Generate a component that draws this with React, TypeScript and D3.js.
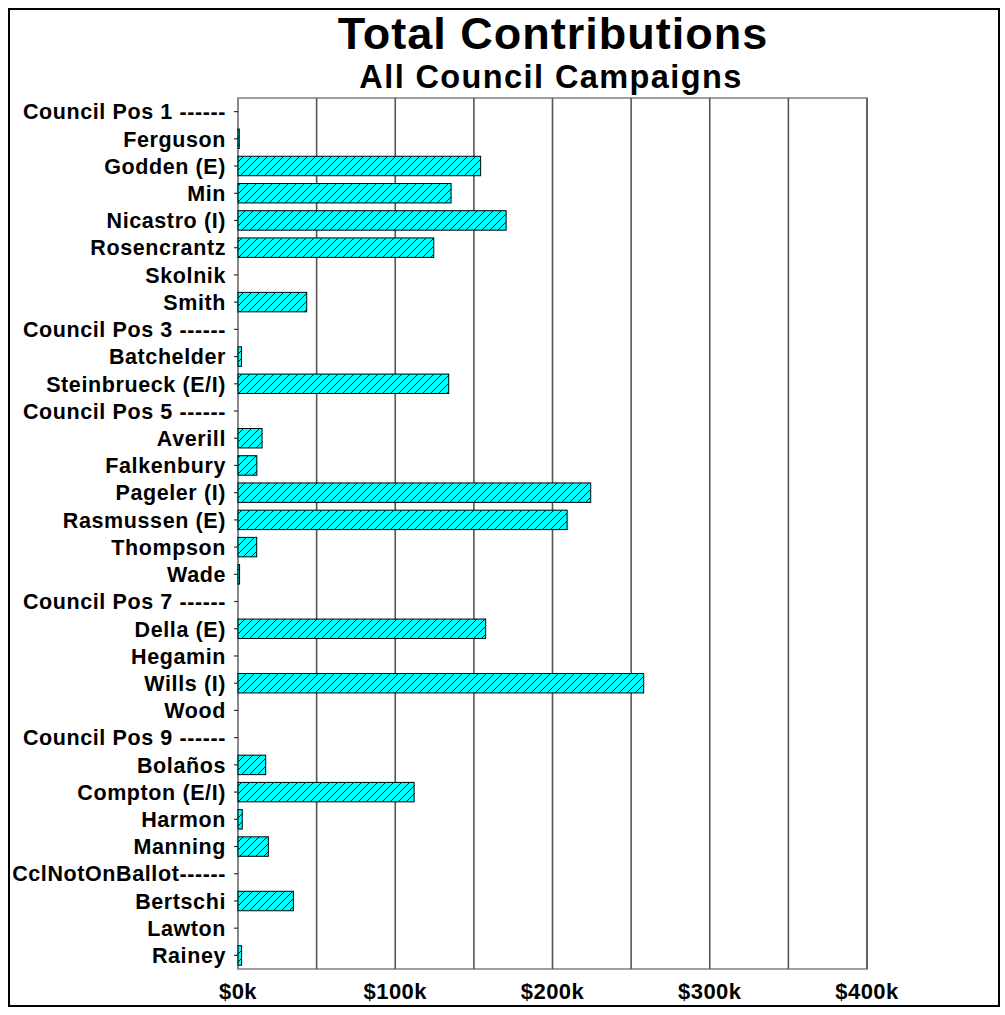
import React from "react";
import * as d3 from "d3";

const categories = [
  "Council Pos 1 ------", "Ferguson", "Godden (E)", "Min", "Nicastro (I)", "Rosencrantz", "Skolnik", "Smith",
  "Council Pos 3 ------", "Batchelder", "Steinbrueck (E/I)",
  "Council Pos 5 ------", "Averill", "Falkenbury", "Pageler (I)", "Rasmussen (E)", "Thompson", "Wade",
  "Council Pos 7 ------", "Della (E)", "Hegamin", "Wills (I)", "Wood",
  "Council Pos 9 ------", "Bolaños", "Compton (E/I)", "Harmon", "Manning",
  "CclNotOnBallot------", "Bertschi", "Lawton", "Rainey",
];

// total contributions in dollars
const contributions = [
  0, 800, 154300, 135500, 170500, 124500, 0, 43700,
  0, 2200, 134000,
  0, 15300, 12000, 224300, 209300, 11900, 1000,
  0, 157500, 0, 258000, 0,
  0, 17600, 112000, 2700, 19300,
  0, 35200, 0, 2300,
];

const xTicks = [0, 100000, 200000, 300000, 400000];
const gridValues = [50000, 100000, 150000, 200000, 250000, 300000, 350000, 400000];
const tickLabel = (v: number) => `$${v / 1000}k`;

const FONT = "'Liberation Sans', Arial, sans-serif";

export default function App() {
  const x = d3.scaleLinear().domain([0, 400000]).range([238, 867]);
  const y = d3.scaleBand<string>().domain(categories).range([98, 969]).paddingInner(0.285).paddingOuter(0.14);
  const yc = d3.scaleBand<string>().domain(categories).range([98, 969]);
  const data = categories.map((c, i) => ({ c, v: contributions[i] }));

  return (
    <svg width={1005} height={1015} style={{ position: "absolute", left: 0, top: 0 }} fontFamily={FONT}>
      <defs>
        <pattern id="hatch" patternUnits="userSpaceOnUse" width={8} height={8}>
          <rect width={8} height={8} fill="#00FFFF" />
          <path d="M0,8 L8,0 M-2,2 L2,-2 M6,10 L10,6" stroke="#000" strokeWidth={0.9} />
        </pattern>
      </defs>
      <rect x={0} y={0} width={1005} height={1015} fill="#fff" />
      <rect x={9} y={9} width={990} height={997} fill="none" stroke="#000" strokeWidth={2} />

      <text x={553} y={49} textAnchor="middle" fontSize={45} fontWeight="bold" letterSpacing={1}>Total Contributions</text>
      <text x={551} y={88} textAnchor="middle" fontSize={32.5} fontWeight="bold" letterSpacing={1.4}>All Council Campaigns</text>

      {/* plot area frame */}
      <rect x={238} y={98} width={629} height={871} fill="#fff" stroke="#808080" strokeWidth={1.5} />
      {gridValues.map((g) => (
        <line key={g} x1={x(g)} x2={x(g)} y1={98} y2={969} stroke="#555" strokeWidth={1.6} />
      ))}
      <line x1={238} x2={238} y1={98} y2={969} stroke="#808080" strokeWidth={1.5} />

      {/* category ticks and labels */}
      {categories.map((c) => {
        const cy = (yc(c) as number) + yc.bandwidth() / 2;
        return (
          <g key={c}>
            <line x1={234} x2={238} y1={cy} y2={cy} stroke="#333" strokeWidth={1.2} />
            <text x={226} y={cy} dy="0.36em" textAnchor="end" fontSize={21.5} fontWeight="bold" letterSpacing={0.6}>{c}</text>
          </g>
        );
      })}

      {/* bars */}
      {data.filter((d) => d.v > 0).map((d) => (
        <rect
          key={d.c}
          x={x(0)}
          y={y(d.c) as number}
          width={x(d.v) - x(0)}
          height={y.bandwidth()}
          fill="url(#hatch)"
          stroke="#000"
          strokeWidth={1}
        />
      ))}

      {/* x tick labels */}
      {xTicks.map((t) => (
        <text key={t} x={x(t)} y={999} textAnchor="middle" fontSize={22} fontWeight="bold" letterSpacing={0.5}>{tickLabel(t)}</text>
      ))}
    </svg>
  );
}
